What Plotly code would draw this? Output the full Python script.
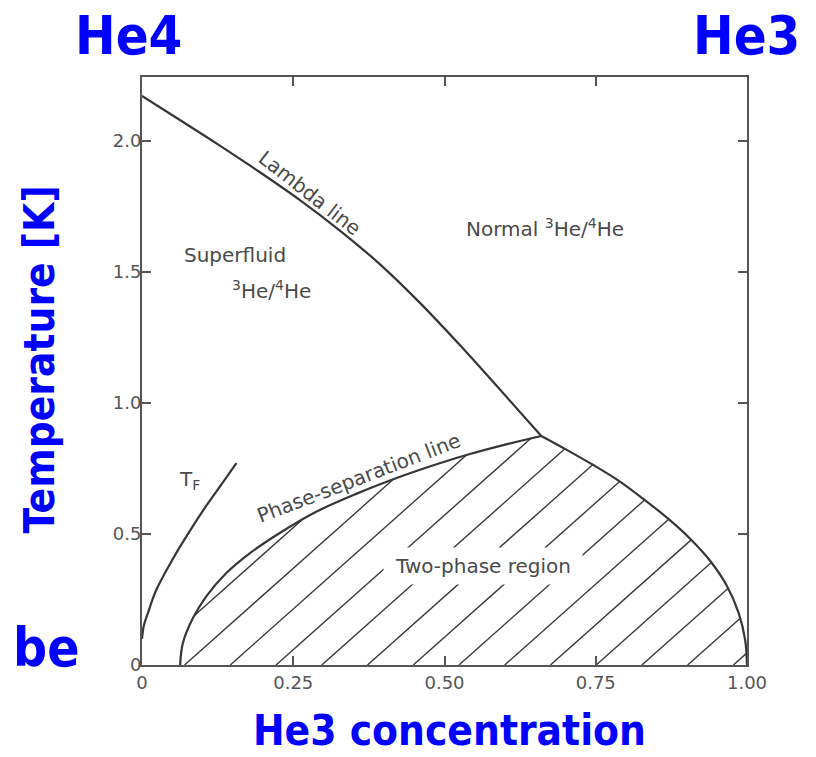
import plotly.graph_objects as go

# --- Phase diagram data (He3 concentration x, temperature T in K) ---
lambda_x = [0.0, 0.062, 0.128, 0.194, 0.260, 0.327, 0.393, 0.459, 0.525, 0.591, 0.660]
lambda_T = [2.172, 2.081, 1.983, 1.882, 1.776, 1.658, 1.530, 1.383, 1.222, 1.053, 0.874]

sep_left_x = [0.063, 0.0675, 0.084, 0.106, 0.139, 0.178, 0.227, 0.288, 0.354, 0.431, 0.492, 0.542, 0.602, 0.660]
sep_left_T = [0.0, 0.083, 0.178, 0.261, 0.350, 0.426, 0.503, 0.585, 0.653, 0.722, 0.770, 0.805, 0.842, 0.874]

sep_right_x = [0.660, 0.702, 0.746, 0.790, 0.828, 0.873, 0.906, 0.939, 0.966, 0.986, 0.997, 1.0]
sep_right_T = [0.874, 0.821, 0.763, 0.700, 0.635, 0.552, 0.482, 0.398, 0.305, 0.200, 0.095, 0.0]

tf_x = [0.0, 0.003, 0.0096, 0.0235, 0.051, 0.0786, 0.106, 0.134, 0.156]
tf_T = [0.10, 0.150, 0.197, 0.286, 0.405, 0.510, 0.607, 0.698, 0.770]

x_ticks = [0, 0.25, 0.5, 0.75, 1.0]
x_ticktext = ["0", "0.25", "0.50", "0.75", "1.00"]
y_ticks = [0, 0.5, 1.0, 1.5, 2.0]
y_ticktext = ["0", "0.5", "1.0", "1.5", "2.0"]

# hatching of the two-phase region: parallel lines x = x0 + T / slope
hatch_slope = 2.053
hatch_first = -0.0053
hatch_step = 0.0756
hatch_count = 14

LINE = "#363636"
GREY = "#555555"
BLUE = "#0000ff"
TXT_FONT = "DejaVu Sans"
BIG_FONT = "DejaVu Sans Condensed, DejaVu Sans"


def hatch_lines(px, pT, slope, first, step, count):
    """Clip a family of parallel lines against the closed polygon (px, pT)."""
    xs, ys = [], []
    n = len(px)
    for k in range(count):
        x0 = first + k * step
        hits = []
        for i in range(n):
            j = (i + 1) % n
            a = px[i] - x0 - pT[i] / slope
            b = px[j] - x0 - pT[j] / slope
            if (a <= 0 < b) or (b <= 0 < a):
                t = a / (a - b)
                hits.append(pT[i] + t * (pT[j] - pT[i]))
        hits.sort()
        for s in range(0, len(hits) - 1, 2):
            t1, t2 = hits[s], hits[s + 1]
            xs += [x0 + t1 / slope, x0 + t2 / slope, None]
            ys += [t1, t2, None]
    return xs, ys


poly_x = sep_left_x + sep_right_x[1:]
poly_T = sep_left_T + sep_right_T[1:]
hx, hy = hatch_lines(poly_x, poly_T, hatch_slope, hatch_first, hatch_step, hatch_count)

fig = go.Figure()
fig.add_trace(go.Scatter(x=hx, y=hy, mode="lines", line=dict(color="#3a3a3a", width=1.4),
                         hoverinfo="skip", showlegend=False))
for xs, ts in [(lambda_x, lambda_T), (sep_left_x, sep_left_T),
               (sep_right_x, sep_right_T), (tf_x, tf_T)]:
    fig.add_trace(go.Scatter(x=xs, y=ts, mode="lines",
                             line=dict(color=LINE, width=2.2, shape="spline", smoothing=1.0),
                             hoverinfo="skip", showlegend=False))

lab = dict(family=TXT_FONT, size=20, color="#4a4a4a")
ann = [
    dict(x=0.564, y=0.378, text="Two-phase region", width=196, height=34,
         bgcolor="white", font=lab),
    dict(x=0.277, y=1.80, text="Lambda line", textangle=38, font=lab),
    dict(x=0.666, y=1.668, text="Normal <sup>3</sup>He/<sup>4</sup>He", font=lab),
    dict(x=0.154, y=1.565, text="Superfluid", font=lab),
    dict(x=0.214, y=1.431, text="<sup>3</sup>He/<sup>4</sup>He", font=lab),
    dict(x=0.079, y=0.706, text="T<sub>F</sub>", font=lab),
    dict(x=0.358, y=0.712, text="Phase-separation line", textangle=-21, font=lab),
]
for a in ann:
    a.update(xref="x", yref="y", showarrow=False)
    fig.add_annotation(**a)

big = dict(family=BIG_FONT, color=BLUE, weight="bold")
corner = [
    dict(x=-0.0215, text="He4"),
    dict(x=0.999, text="He3"),
]
for a in corner:
    fig.add_annotation(y=1.128, xref="paper", yref="paper", showarrow=False,
                       xanchor="center", yanchor="top", font=dict(size=54, **big), **a)
side = [
    dict(x=-0.158, y=0.029, text="be", font=dict(size=53, **big)),
    dict(x=-0.169, y=0.519, text="Temperature [K]", textangle=-90, font=dict(size=42, **big)),
]
for a in side:
    a.update(xref="paper", yref="paper", showarrow=False, xanchor="center", yanchor="middle")
    fig.add_annotation(**a)
fig.add_annotation(x=0.509, y=-0.1565, xref="paper", yref="paper", showarrow=False,
                   xanchor="center", yanchor="bottom", text="He3 concentration",
                   font=dict(size=42, **big))

axis_common = dict(showline=True, linecolor=GREY, linewidth=2, mirror="allticks",
                   ticks="inside", ticklen=9, tickwidth=1.5, tickcolor=GREY,
                   showgrid=False, zeroline=False,
                   tickfont=dict(family=TXT_FONT, size=18, color=GREY))
fig.update_xaxes(range=[0, 1], tickvals=x_ticks, ticktext=x_ticktext, **axis_common)
fig.update_yaxes(range=[0, 2.244], tickvals=y_ticks, ticktext=y_ticktext,
                 ticklabelstandoff=-5, **axis_common)

fig.update_layout(width=816, height=757, margin=dict(l=142, r=69, t=77, b=92),
                  plot_bgcolor="white", paper_bgcolor="white")
fig.write_html("out.html")
